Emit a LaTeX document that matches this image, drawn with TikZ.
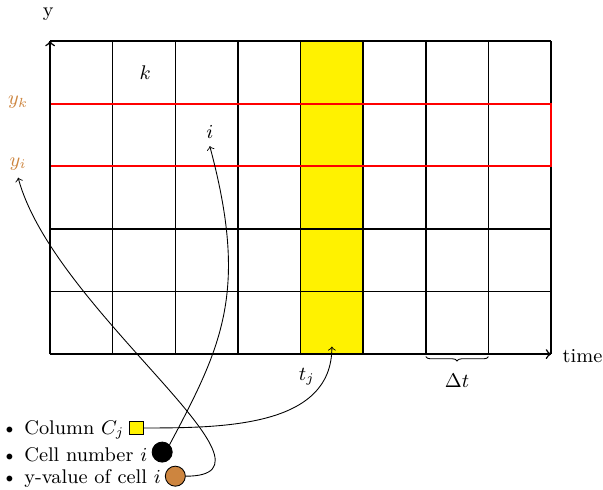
\documentclass[tikz,border=0pt]{standalone}
\usepackage{amsmath, amssymb}
\usepackage{xcolor}
\usepackage{tikz}
\usetikzlibrary{decorations.pathreplacing}
\definecolor{peru}{RGB}{205,133,63}

\begin{document}
\begin{tikzpicture}[
  font=\small,
  gridline/.style={line width=0.7pt, black},
  rowline/.style={line width=0.8pt, red},
  axis/.style={->, line width=0.7pt},
  arr/.style={->, thin},
  sqmark/.style={rectangle, draw, fill=yellow, minimum size=0.22cm, inner sep=0pt},
  dotmark/.style={circle, draw, minimum size=0.32cm, inner sep=0pt},
  ylabel/.style={text=peru},
  item/.style={anchor=west, inner sep=0pt}
]
\useasboundingbox (-0.8,-2.17) rectangle (8.83,5.655);

% grid with the column C_j and the row of cell i
\fill[yellow] (4,0) rectangle (5,5);
\draw[gridline] (0,0) grid (8,5);
\draw[rowline] (0,3) rectangle (8,4);
\draw[axis] (0,0) -- (8,0);
\draw[axis] (0,0) -- (0,5);

\node (yLab) at (-0.03,5.43) {y};
\node[anchor=west, inner sep=0pt] (timeLab) at (8.18,-0.03) {time};
\node (kLab) at (1.52,4.5) {$k$};
\node (iLab) at (2.55,3.55) {$i$};
\node[ylabel] (ykLab) at (-0.51,4.02) {$y_k$};
\node[ylabel] (yiLab) at (-0.51,3.04) {$y_i$};
\node (tjLab) at (4.1,-0.36) {$t_j$};

% Delta t
\coordinate (dtL) at (6,-0.04);
\coordinate (dtR) at (7,-0.04);
\draw[decorate, decoration={brace, mirror, amplitude=2pt}] (dtL) -- (dtR);
\node (dtLab) at (6.5,-0.42) {$\Delta t$};

% legend
\node[item] (itemC) at (-0.78,-1.21) {\textbullet\ Column $C_j$};
\node[item] (itemN) at (-0.78,-1.61) {\textbullet\ Cell number $i$};
\node[item] (itemY) at (-0.78,-1.98) {\textbullet\ y-value of cell $i$};
\node[sqmark] (colC) at (1.374,-1.18) {};
\node[dotmark, fill=black] (cellNo) at (1.79,-1.565) {};
\node[dotmark, fill=peru] (yVal) at (2.0,-1.95) {};
\coordinate (colBot) at (4.5,0.12);

\draw[arr] (colC.east) to[out=0, in=-90] (colBot);
\draw[arr] (cellNo.north east) .. controls +(62:1.8) and +(-75:2.4) .. (iLab.south);
\draw[arr] (yVal.east) .. controls +(0:1.8) and +(-75:2.2) .. (yiLab.south);
\end{tikzpicture}
\end{document}
